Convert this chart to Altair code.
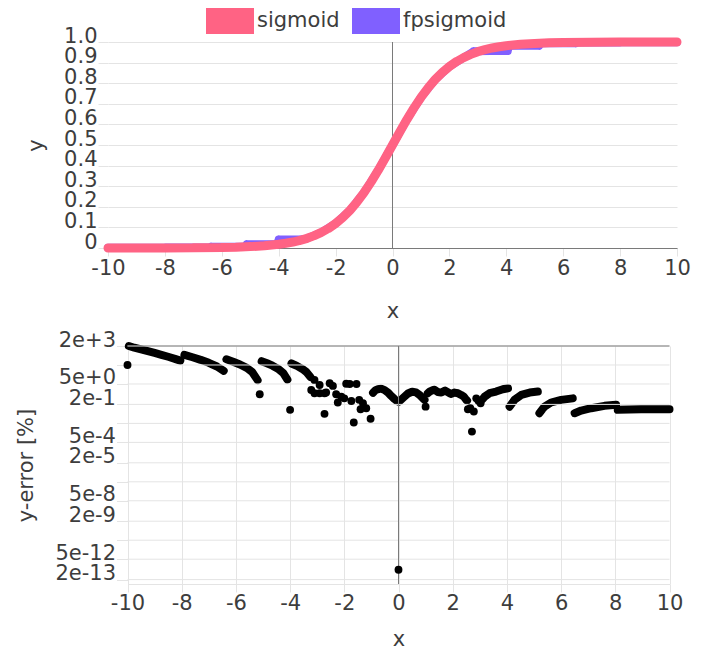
import altair as alt
import pandas as pd

# ---------------- top panel: sigmoid vs fpsigmoid ----------------
series = ["sigmoid", "fpsigmoid"]
colors = ["#ff6384", "#8060ff"]

sig_x = [-10, -9, -8, -7, -6, -5.5, -5, -4.5, -4, -3.75, -3.5, -3.25, -3, -2.75, -2.5, -2.25,
         -2, -1.75, -1.5, -1.25, -1, -0.75, -0.5, -0.25, 0, 0.25, 0.5, 0.75, 1, 1.25, 1.5,
         1.75, 2, 2.25, 2.5, 2.75, 3, 3.25, 3.5, 3.75, 4, 4.5, 5, 5.5, 6, 7, 8, 9, 10]
sig_y = [0.0000, 0.0001, 0.0003, 0.0009, 0.0025, 0.0041, 0.0067, 0.011, 0.018, 0.023, 0.029,
         0.037, 0.047, 0.060, 0.076, 0.095, 0.119, 0.148, 0.182, 0.223, 0.269, 0.321, 0.378,
         0.438, 0.500, 0.562, 0.622, 0.679, 0.731, 0.777, 0.818, 0.852, 0.881, 0.905, 0.924,
         0.940, 0.953, 0.963, 0.971, 0.977, 0.982, 0.989, 0.993, 0.996, 0.998, 0.999, 1.0,
         1.0, 1.0]

fp_x = [-10, -8.02, -7.98, -6.42, -6.38, -5.18, -5.12, -4.06, -4.0, -3.2, -3.0, -2.5, -2,
        -1.5, -1, -0.5, 0, 0.5, 1, 1.5, 2, 2.5, 2.85, 4.05, 4.1, 5.15, 5.2, 6.45, 6.5, 8.0,
        8.05, 10]
fp_y = [0.001, 0.001, 0.002, 0.002, 0.006, 0.006, 0.018, 0.018, 0.041, 0.041, 0.047, 0.076,
        0.119, 0.182, 0.269, 0.378, 0.5, 0.622, 0.731, 0.818, 0.881, 0.924, 0.955, 0.957,
        0.982, 0.982, 0.994, 0.994, 0.998, 0.998, 0.999, 0.999]

# ---------------- bottom panel: relative error [%] ----------------
arc_x = [-9.95, -9.75, -9.5, -9.25, -9.0, -8.75, -8.5, -8.25, -8.05,
         -7.9, -7.6, -7.3, -7.0, -6.7, -6.45,
         -6.35, -6.1, -5.85, -5.6, -5.4, -5.2,
         -5.05, -4.85, -4.65, -4.45, -4.25, -4.1,
         -3.95, -3.75, -3.55, -3.4, -3.25,
         -0.94, -0.85, -0.76, -0.64, -0.51, -0.38, -0.27, -0.15, -0.05, 0.0,
         0.05, 0.22, 0.35, 0.5, 0.65, 0.78, 0.9, 0.96,
         1.08, 1.15, 1.27, 1.33, 1.45, 1.58, 1.72, 1.88, 1.95, 2.07, 2.19, 2.31, 2.41, 2.5, 2.53,
         3.1, 3.18, 3.36, 3.6, 3.85, 4.04,
         4.1, 4.2, 4.28, 4.53, 4.84, 5.14,
         5.2, 5.3, 5.39, 5.63, 6.0, 6.43,
         6.5, 6.74, 7.11, 7.6, 8.03,
         8.09, 8.95, 10.0]
arc_err = [1992, 1530, 1169, 888, 670, 499, 367, 264, 198,
           494, 340, 226, 141, 79, 39.5,
           244, 168, 109, 63, 33, 9.2,
           183, 132, 90, 56, 28, 10,
           127, 87, 54, 33, 15,
           1.26, 1.9, 2.2, 2.4, 1.9, 1.26, 0.76, 0.47, 0.33, 0.31,
           0.35, 0.68, 1.12, 1.48, 1.32, 0.89, 0.52, 0.41,
           1.17, 1.51, 1.95, 2.0, 1.41, 1.29, 1.78, 1.17, 1.05, 1.29, 1.17, 0.89, 0.68, 0.41, 0.36,
           0.45, 0.68, 1.17, 1.51, 2.19, 2.57,
           0.14, 0.25, 0.41, 0.89, 1.29, 1.51,
           0.05, 0.089, 0.14, 0.27, 0.41, 0.52,
           0.05, 0.076, 0.11, 0.16, 0.19,
           0.085, 0.093, 0.093]
arc_seg = [1] * 9 + [2] * 6 + [3] * 6 + [4] * 6 + [5] * 5 + [6] * 10 + [7] * 8 + [8] * 15 \
    + [9] * 6 + [10] * 6 + [11] * 6 + [12] * 5 + [13] * 3

dot_x = [-10.0, -5.12, -4.0, -3.1, -2.91, -3.22, -3.1, -2.91, -2.73, -2.67, -2.54, -2.42,
         -2.73, -2.3, -2.24, -2.11, -2.0, -1.93, -1.8, -1.55, -1.74, -1.65, -1.45, -1.31,
         -1.4, -1.19, -1.03, 1.0, 2.56, 2.65, 2.78, 2.71, 2.87, 2.95, 3.03, 0.0]
dot_err = [100, 1.0, 0.085, 9.5, 4.3, 1.95, 1.17, 1.17, 1.17, 1.3, 5.6, 3.7,
           0.045, 1.0, 0.27, 0.68, 0.52, 5.2, 5.0, 5.0, 0.34, 0.0115, 0.41, 0.24,
           0.093, 0.11, 0.021, 0.14, 0.093, 0.11, 0.065, 0.00275, 0.52, 0.35, 0.24, 9.5e-13]

# ---------------- axes ----------------
x_ticks = [-10, -8, -6, -4, -2, 0, 2, 4, 6, 8, 10]
y_ticks = [0, 0.1, 0.2, 0.3, 0.4, 0.5, 0.6, 0.7, 0.8, 0.9, 1.0]
err_ticks = [2000, 100, 5, 0.2, 0.01, 5e-4, 2e-5, 1e-6, 5e-8, 2e-9, 1e-10, 5e-12, 2e-13]
err_range = [1e-13, 2000]
x_range = [-10, 10]

FONT = "DejaVu Sans"
TXT = "#3d3d3d"
GRID = "#e4e4e4"
ZERO = "#7a7a7a"
FS = 21
SHIFT = 19.5   # bottom plot starts this many px right of the top plot

sig_df = pd.DataFrame({"x": sig_x, "y": sig_y, "series": series[0]})
fp_df = pd.DataFrame({"x": fp_x, "y": fp_y, "series": series[1]})
arc_df = pd.DataFrame({"x": arc_x, "err": arc_err, "seg": arc_seg})
dot_df = pd.DataFrame({"x": dot_x, "err": dot_err})
grid_df = pd.DataFrame({"err": err_ticks})
one = pd.DataFrame({"k": [0]})

# ---------- top chart ----------
x_top = alt.X("x:Q", scale=alt.Scale(domain=x_range, nice=False),
              axis=alt.Axis(values=x_ticks, tickCount=len(x_ticks), title="x",
                            labelExpr="'' + datum.value",
                            domainColor=ZERO, tickSize=8, labelPadding=1, titlePadding=22))
y_top = alt.Y("y:Q", scale=alt.Scale(domain=[0, 1], nice=False),
              axis=alt.Axis(values=y_ticks, tickCount=len(y_ticks), title="y", domain=False,
                            labelExpr="datum.value == 0 ? '0' : format(datum.value, '.1f')",
                            labelBaseline="alphabetic", tickSize=10, labelPadding=1,
                            titlePadding=17, labelOverlap=False))
fill_top = alt.Fill(
    "series:N", scale=alt.Scale(domain=series, range=colors),
    legend=alt.Legend(title=None, orient="none", legendX=109, legendY=-34,
                      direction="horizontal",
                      symbolType="M-1.846,-1H1.846V1H-1.846Z", symbolSize=676,
                      symbolStrokeWidth=0, symbolOpacity=1, labelFontSize=FS,
                      labelColor=TXT, labelOffset=14, columnPadding=12, padding=0))

fp_layer = alt.Chart(fp_df).mark_trail().encode(
    x=x_top, y=y_top, size=alt.value(8), fill=fill_top)
sig_layer = alt.Chart(sig_df).mark_trail().encode(
    x="x:Q", y="y:Q", size=alt.value(9), fill="series:N")
zero_top = alt.Chart(one).mark_rule(color=ZERO, strokeWidth=1).encode(x=alt.datum(0))

top = alt.layer(zero_top, fp_layer, sig_layer).properties(width=569, height=206)

# ---------- bottom chart ----------
BW = 542
x_bot = alt.X("x:Q", scale=alt.Scale(domain=x_range, nice=False, range=[SHIFT, BW + SHIFT]),
              axis=alt.Axis(values=x_ticks, tickCount=len(x_ticks), title="x",
                            labelExpr="'' + datum.value",
                            domainColor=GRID, tickSize=8, labelPadding=0, titlePadding=15))
y_bot = alt.Y("err:Q", scale=alt.Scale(type="log", domain=err_range, nice=False),
              axis=alt.Axis(values=err_ticks, tickCount=len(err_ticks), title="y-error [%]",
                            domain=False, grid=False, offset=-SHIFT,
                            labelExpr="substring(format(datum.value, '.0e'), 0, 1) == '1' ? '' : format(datum.value, '.0e')",
                            labelBaseline="alphabetic", tickSize=11, labelPadding=1,
                            titlePadding=18, labelOverlap=False))

grid_bot = alt.Chart(grid_df).mark_rule(color=GRID, strokeWidth=1).encode(
    y=alt.Y("err:Q", title="y-error [%]"), x=alt.datum(x_range[0]), x2=alt.datum(x_range[1]))
zero_bot = alt.Chart(one).mark_rule(color=ZERO, strokeWidth=1).encode(x=alt.datum(0))
top_bot = alt.Chart(one).mark_rule(color=ZERO, strokeWidth=1).encode(
    y=alt.datum(err_range[1]), x=alt.datum(x_range[0]), x2=alt.datum(x_range[1]))
arcs = alt.Chart(arc_df).mark_line(color="black", strokeWidth=8, strokeCap="round",
                                   strokeJoin="round").encode(x=x_bot, y=y_bot, detail="seg:N")
dots = alt.Chart(dot_df).mark_circle(color="black", opacity=1, size=62).encode(
    x="x:Q", y=alt.Y("err:Q", title="y-error [%]"))

bottom = alt.layer(arcs, grid_bot, zero_bot, top_bot, dots).properties(width=BW + SHIFT, height=238)

chart = alt.concat(top, bottom, columns=1, spacing=8).properties(
    padding={"left": 7, "top": 0, "right": 5, "bottom": 5}
).configure(font=FONT).configure_axis(
    labelFont=FONT, titleFont=FONT, labelFontSize=FS, titleFontSize=FS,
    labelColor=TXT, titleColor=TXT, titleFontWeight="normal",
    gridColor=GRID, tickColor=GRID, labelOverlap=False, labelFlush=False
).configure_legend(labelFont=FONT).configure_view(strokeWidth=0)

chart.save("out.html", embed_options={"renderer": "svg", "actions": False})
